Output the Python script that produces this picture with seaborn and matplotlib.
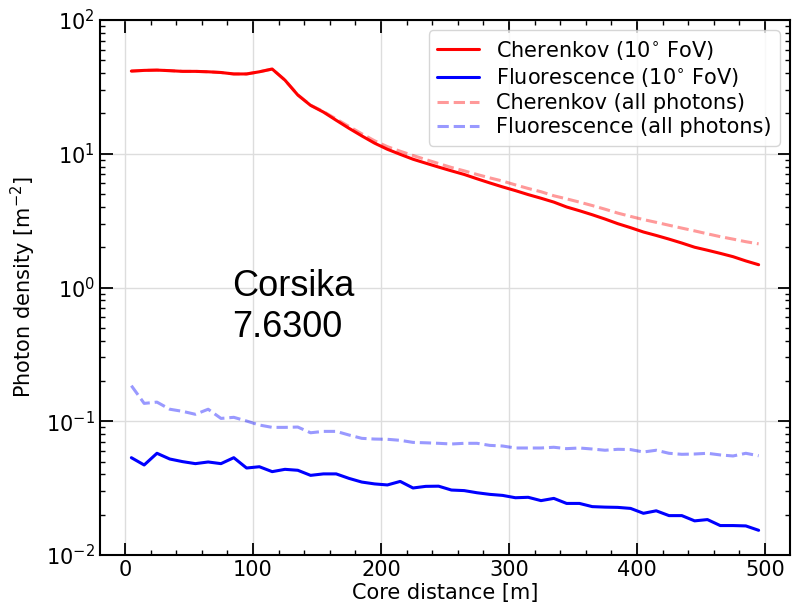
import numpy as np
import pandas as pd
import matplotlib
matplotlib.use("Agg")
import matplotlib.pyplot as plt
import seaborn as sns
from matplotlib.ticker import MultipleLocator, LogLocator, NullFormatter

# ---- data ----
core_distance = [5, 15, 25, 35, 45, 55, 65, 75, 85, 95,
                 105, 115, 125, 135, 145, 155, 165, 175, 185, 195,
                 205, 215, 225, 235, 245, 255, 265, 275, 285, 295,
                 305, 315, 325, 335, 345, 355, 365, 375, 385, 395,
                 405, 415, 425, 435, 445, 455, 465, 475, 485, 495]

cherenkov_fov = [41.5, 42.0, 42.2, 41.8, 41.3, 41.3, 41.0, 40.5, 39.5, 39.5,
                 41.0, 43.0, 35.5, 27.5, 23.0, 20.5, 17.8, 15.5, 13.6, 12.0,
                 10.8, 9.9, 9.1, 8.5, 7.95, 7.45, 7.0, 6.5, 6.05, 5.65,
                 5.3, 4.95, 4.65, 4.35, 4.0, 3.75, 3.5, 3.25, 3.0, 2.8,
                 2.6, 2.45, 2.3, 2.15, 2.0, 1.9, 1.8, 1.7, 1.58, 1.48]

fluorescence_fov = [0.0534, 0.0471, 0.0576, 0.0522, 0.0499, 0.0482, 0.0496, 0.0482, 0.0534, 0.0447,
                    0.0457, 0.0420, 0.0437, 0.0430, 0.0394, 0.0404, 0.0404, 0.0374, 0.0351, 0.0340,
                    0.0334, 0.0355, 0.0317, 0.0326, 0.0327, 0.0306, 0.0303, 0.0292, 0.0284, 0.0279,
                    0.0268, 0.0270, 0.0255, 0.0265, 0.0243, 0.0243, 0.0230, 0.0228, 0.0227, 0.0223,
                    0.0205, 0.0214, 0.0197, 0.0197, 0.0180, 0.0184, 0.0166, 0.0166, 0.0165, 0.0153]

cherenkov_all = [41.5, 42.0, 42.2, 41.8, 41.3, 41.3, 41.0, 40.5, 39.5, 39.5,
                 41.0, 43.0, 35.5, 27.6, 23.1, 20.7, 18.2, 16.0, 14.1, 12.5,
                 11.3, 10.45, 9.7, 9.05, 8.45, 7.9, 7.45, 7.0, 6.6, 6.25,
                 5.85, 5.5, 5.2, 4.85, 4.6, 4.35, 4.1, 3.85, 3.6, 3.4,
                 3.22, 3.07, 2.92, 2.78, 2.65, 2.52, 2.4, 2.3, 2.2, 2.12]

fluorescence_all = [0.1845, 0.136, 0.139, 0.123, 0.1186, 0.1127, 0.123, 0.105, 0.107, 0.1004,
                    0.0937, 0.090, 0.090, 0.0905, 0.082, 0.084, 0.084, 0.0789, 0.0745, 0.0736,
                    0.0733, 0.072, 0.0695, 0.069, 0.0684, 0.0676, 0.0684, 0.0684, 0.066, 0.0653,
                    0.0631, 0.0631, 0.0631, 0.0639, 0.0624, 0.0631, 0.062, 0.0607, 0.0617, 0.0614,
                    0.0589, 0.0607, 0.0576, 0.0566, 0.0569, 0.0576, 0.056, 0.055, 0.0576, 0.0552]

labels = ["Cherenkov (10$^{\\circ}$ FoV)", "Fluorescence (10$^{\\circ}$ FoV)",
          "Cherenkov (all photons)", "Fluorescence (all photons)"]

sns.set_style("white")
plt.rcParams["font.family"] = ["DejaVu Sans"]
plt.rcParams.update({"text.color": "black", "axes.labelcolor": "black",
                     "xtick.color": "black", "ytick.color": "black"})

df = pd.DataFrame({"x": core_distance,
                   labels[0]: cherenkov_fov,
                   labels[1]: fluorescence_fov,
                   labels[2]: cherenkov_all,
                   labels[3]: fluorescence_all})

fig = plt.figure(figsize=(7.92, 6.11), dpi=100)
ax = fig.add_axes([100/792, 56/611, 690/792, 535/611])

styles = [("red", "-", 1.0), ("blue", "-", 1.0), ("red", "--", 0.4), ("blue", "--", 0.4)]
for lab, (c, ls, a) in zip(labels, styles):
    sns.lineplot(data=df, x="x", y=lab, ax=ax, color=c, linestyle=ls, alpha=a,
                 linewidth=2.2, label=lab)

ax.set_yscale("log")
ax.set_ylim(1e-2, 1e2)
ax.set_xlim(-19.5, 519.5)
ax.xaxis.set_major_locator(MultipleLocator(100))
ax.xaxis.set_minor_locator(MultipleLocator(20))
ax.yaxis.set_major_locator(LogLocator(base=10, numticks=10))
ax.yaxis.set_minor_locator(LogLocator(base=10, subs=np.arange(2, 10), numticks=20))
ax.yaxis.set_minor_formatter(NullFormatter())

ax.grid(True, which="major", color="#dddddd", linewidth=1.0)
ax.tick_params(which="both", direction="in", top=True, right=True, bottom=True,
               left=True, labelsize=15, color="black", labelcolor="black")
ax.tick_params(which="major", length=9, width=1.3)
ax.tick_params(which="minor", length=3.5, width=1.0)
for s in ax.spines.values():
    s.set_color("black")
    s.set_linewidth(1.5)

ax.set_xlabel("Core distance [m]", fontsize=15, labelpad=2)
ax.set_ylabel("Photon density [m$^{-2}$]", fontsize=15, labelpad=6)

ax.text(0.192, 0.392, "Corsika\n7.6300", transform=ax.transAxes, fontsize=26,
        family="Liberation Sans", color="black", ha="left", va="bottom",
        linespacing=1.22)

leg = ax.legend(loc="upper right", fontsize=15, labelspacing=0.2, framealpha=0.8)
for t in leg.get_texts():
    t.set_color("black")

fig.savefig("out.png", dpi=100)
